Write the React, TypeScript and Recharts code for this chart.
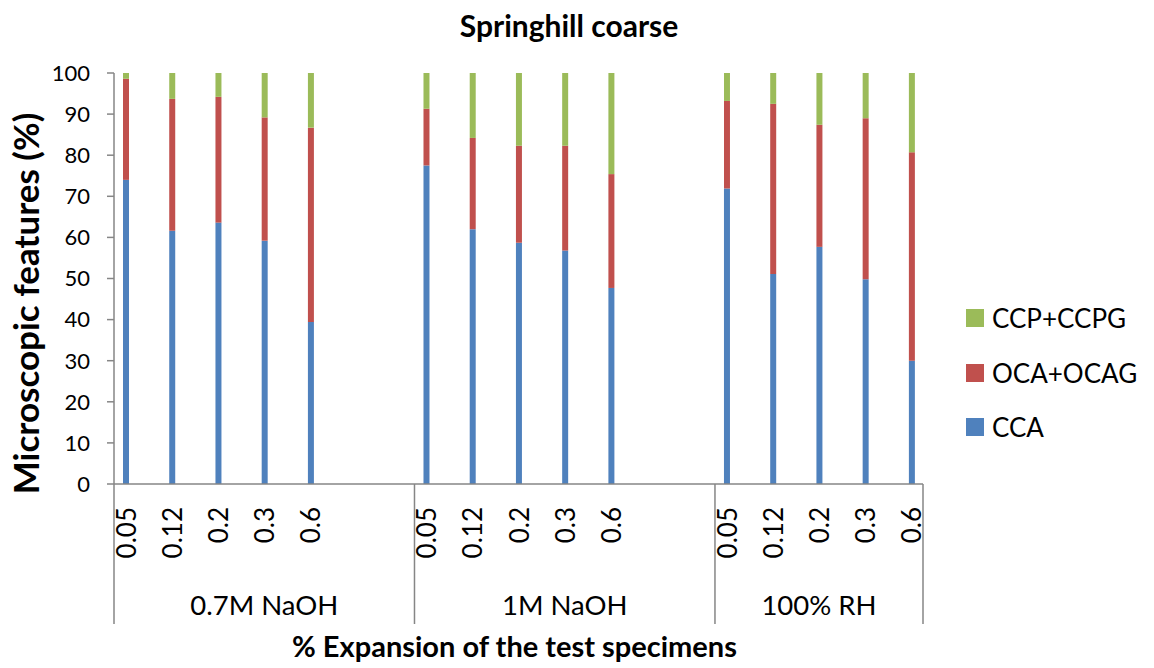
import React from 'react';
import { BarChart, Bar, XAxis, YAxis, Legend, Label } from 'recharts';

// categories per group (empty strings are the blank rows of the sheet)
const categories = [
  ['0.05', '', '0.12', '', '0.2', '', '0.3', '', '0.6', '', '', '', ''],
  ['0.05', '', '0.12', '', '0.2', '', '0.3', '', '0.6', '', '', '', ''],
  ['0.05', '', '0.12', '', '0.2', '', '0.3', '', '0.6'],
];
const groups = ['0.7M NaOH', '1M NaOH', '100% RH'];

const cca = [
  [74.0, 61.6, 63.6, 59.2, 39.4],
  [77.5, 62.0, 58.7, 56.8, 47.7],
  [71.9, 51.1, 57.7, 49.8, 30.0],
];
const ocaOcag = [
  [24.6, 32.1, 30.6, 30.0, 47.3],
  [13.8, 22.2, 23.6, 25.5, 27.7],
  [21.3, 41.4, 29.7, 39.2, 50.7],
];
const ccpCcpg = [
  [1.4, 6.3, 5.8, 10.8, 13.3],
  [8.7, 15.8, 17.7, 17.7, 24.6],
  [6.8, 7.5, 12.6, 11.0, 19.3],
];
const yTicks = [0, 10, 20, 30, 40, 50, 60, 70, 80, 90, 100];
const legendOrder = ['CCP+CCPG', 'OCA+OCAG', 'CCA'];

const data: any[] = [];
categories.forEach((cats, g) => {
  let k = 0;
  cats.forEach((label, i) => {
    const row: any = { key: `${g}-${i}`, label, group: g, pos: i, count: cats.length };
    if (label !== '') {
      row.cca = cca[g][k];
      row.oca = ocaOcag[g][k];
      row.ccp = ccpCcpg[g][k];
      k++;
    }
    data.push(row);
  });
});

const font = 'Lato, "Open Sans", sans-serif';
const axisColor = '#868686';
const NUM_AXIS_H = 80;
const GRP_AXIS_H = 60;

const NumTick = (props: any) => {
  const { x, y, index } = props;
  const row = data[index];
  if (!row || !row.label) return null;
  const ty = y + 23;
  return (
    <text
      x={x}
      y={ty}
      transform={`rotate(-90 ${x} ${ty})`}
      textAnchor="end"
      dominantBaseline="central"
      fontSize={26}
      fontFamily={font}
      fill="#000"
    >
      {row.label}
    </text>
  );
};

const GroupTick = (props: any) => {
  const { x, y, index, payload } = props;
  const row = data[index];
  if (!row) return null;
  const half = payload?.offset ?? 11.5;
  const top = y - NUM_AXIS_H;
  const bottom = y + GRP_AXIS_H;
  return (
    <g>
      {row.pos === 0 && (
        <line x1={x - half} x2={x - half} y1={top} y2={bottom} stroke={axisColor} strokeWidth={1.5} />
      )}
      {index === data.length - 1 && (
        <line x1={x + half} x2={x + half} y1={top} y2={bottom} stroke={axisColor} strokeWidth={1.5} />
      )}
      {row.pos === Math.floor(row.count / 2) && (
        <text x={x} y={y + 40} textAnchor="middle" dominantBaseline="central" fontSize={27.5} fontFamily={font} fill="#000">
          {groups[row.group]}
        </text>
      )}
    </g>
  );
};

const YTitle = (props: any) => {
  const { viewBox } = props;
  const cx = viewBox.x + 25;
  const cy = viewBox.y + viewBox.height / 2 + 25;
  return (
    <text
      x={cx}
      y={cy}
      transform={`rotate(-90 ${cx} ${cy})`}
      textAnchor="middle"
      dominantBaseline="central"
      fontSize={35}
      fontWeight="bold"
      fontFamily={font}
      fill="#000"
    >
      Microscopic features (%)
    </text>
  );
};

const renderLegend = (props: any) => {
  const items = [...(props.payload || [])].sort(
    (a: any, b: any) => legendOrder.indexOf(a.value) - legendOrder.indexOf(b.value)
  );
  return (
    <div style={{ fontFamily: font, whiteSpace: 'nowrap', width: 188 }}>
      {items.map((it: any) => (
        <div key={it.value} style={{ display: 'flex', alignItems: 'center', height: 54.5 }}>
          <span
            style={{ width: 18, height: 18, minWidth: 18, flexShrink: 0, background: it.color, marginRight: 8, display: 'inline-block' }}
          />
          <span style={{ fontSize: 26, color: '#000' }}>{it.value}</span>
        </div>
      ))}
    </div>
  );
};

export default function App() {
  return (
    <div style={{ position: 'absolute', left: 0, top: 0, background: '#fff' }}>
      <BarChart
        width={1154}
        height={668}
        data={data}
        margin={{ top: 73, right: 231, left: 0, bottom: 44 }}
        barCategoryGap={0}
      >
        <text x={569} y={25} textAnchor="middle" dominantBaseline="central" fontSize={30} fontWeight="bold" fontFamily={font} fill="#000">
          Springhill coarse
        </text>
        <XAxis
          xAxisId="b"
          dataKey="key"
          interval={0}
          height={GRP_AXIS_H}
          tickSize={0}
          tickMargin={0}
          tickLine={false}
          axisLine={false}
          tick={<GroupTick />}
        >
          <Label
            value="% Expansion of the test specimens"
            position="bottom"
            offset={12}
            dx={-4}
            style={{ fontSize: 29, fontWeight: 'bold', fontFamily: font, fill: '#000' }}
          />
        </XAxis>
        <XAxis
          xAxisId="a"
          dataKey="key"
          interval={0}
          height={NUM_AXIS_H}
          tickSize={0}
          tickMargin={0}
          tickLine={false}
          axisLine={{ stroke: axisColor, strokeWidth: 1.5 }}
          tick={<NumTick />}
        />
        <YAxis
          width={114}
          domain={[0, 100]}
          ticks={yTicks}
          interval={0}
          tickSize={7}
          tickMargin={17}
          axisLine={{ stroke: axisColor, strokeWidth: 1.5 }}
          tickLine={{ stroke: axisColor, strokeWidth: 1.5 }}
          tick={{ fontSize: 22, fill: '#000', fontFamily: font }}
        >
          <Label content={<YTitle />} />
        </YAxis>
        <Legend
          verticalAlign="top"
          align="right"
          layout="vertical"
          wrapperStyle={{ left: 966, top: 291, width: 0, height: 0, overflow: 'visible' }}
          content={renderLegend}
        />
        <Bar xAxisId="a" dataKey="cca" name="CCA" stackId="s" fill="#4F81BD" barSize={6} isAnimationActive={false} />
        <Bar xAxisId="a" dataKey="oca" name="OCA+OCAG" stackId="s" fill="#C0504D" barSize={6} isAnimationActive={false} />
        <Bar xAxisId="a" dataKey="ccp" name="CCP+CCPG" stackId="s" fill="#9BBB59" barSize={6} isAnimationActive={false} />
      </BarChart>
    </div>
  );
}
